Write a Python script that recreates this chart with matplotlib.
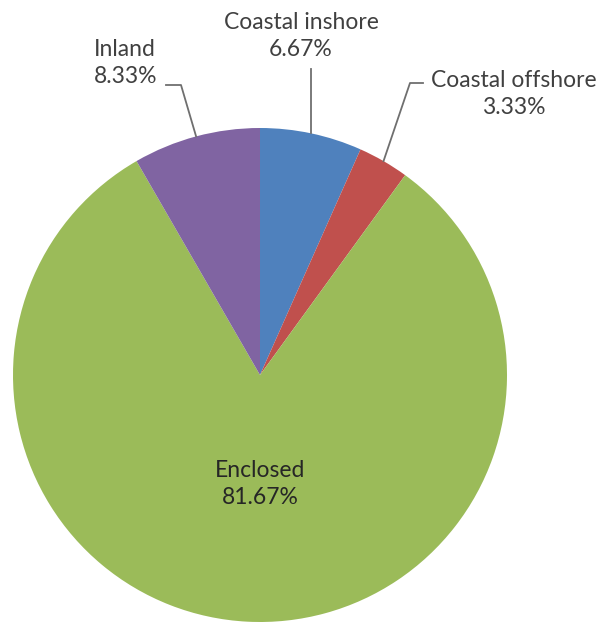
import numpy as np
import matplotlib.pyplot as plt

categories = ['Coastal inshore', 'Coastal offshore', 'Enclosed', 'Inland']
shares = [6.67, 3.33, 81.67, 8.33]
colors = ['#4F81BD', '#C0504D', '#9BBB59', '#8064A2']

W, H = 607, 625
fig = plt.figure(figsize=(W / 100, H / 100), dpi=100)
ax = fig.add_axes([0, 0, 1, 1])

cx, cy, r = 260, 250, 247
wedges, _ = ax.pie(shares, colors=colors, startangle=90, counterclock=False,
                   center=(cx, cy), radius=r, frame=True,
                   wedgeprops=dict(linewidth=0))
ax.set_xlim(0, W)
ax.set_ylim(0, H)
ax.set_aspect('equal')
ax.axis('off')

plt.rcParams['font.family'] = ['Lato', 'DejaVu Sans']
txt = '#404040'
line_c = '#6f6f6f'
fs = 16.5
ls = 1.35

def edge(w):
    a = np.deg2rad((w.theta1 + w.theta2) / 2)
    return cx + r * np.cos(a), cy + r * np.sin(a)

def label(i):
    return f'{categories[i]}\n{shares[i]:.2f}%'

# Coastal inshore: straight line up to the label
x0, y0 = edge(wedges[0])
ax.plot([x0, x0], [y0, 556], color=line_c, lw=1.3)
ax.text(301, 589, label(0), ha='center', va='center', fontsize=fs,
        color=txt, linespacing=ls)

# Coastal offshore: elbow leader
x1, y1 = edge(wedges[1])
ax.plot([x1, 410, 423], [y1, 542, 542], color=line_c, lw=1.3)
ax.text(514, 531, label(1), ha='center', va='center', fontsize=fs,
        color=txt, linespacing=ls)

# Inland: elbow leader to the left
x3, y3 = edge(wedges[3])
ax.plot([x3, 181, 166], [y3, 540, 540], color=line_c, lw=1.3)
ax.text(94, 562, label(3), ha='left', va='center', fontsize=fs,
        color=txt, linespacing=ls)

# Enclosed: inside the wedge
ax.text(260, 141, label(2), ha='center', va='center', fontsize=fs,
        color='#262626', linespacing=ls)

fig.savefig('out.png', dpi=100)
